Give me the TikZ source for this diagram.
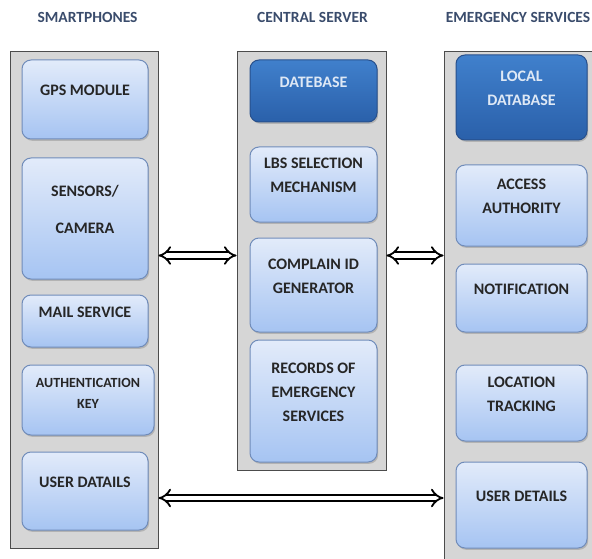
\documentclass[tikz,border=0pt]{standalone}
\usepackage{fontspec}
\setmainfont{Carlito}
\usetikzlibrary{arrows.meta,shadows}
\definecolor{headblue}{RGB}{58,76,108}
\definecolor{boxtop}{RGB}{226,235,250}
\definecolor{boxbot}{RGB}{166,196,242}
\definecolor{boxedge}{RGB}{112,140,186}
\definecolor{darktop}{RGB}{64,128,204}
\definecolor{darkbot}{RGB}{42,96,170}
\definecolor{darkedge}{RGB}{40,80,140}
\definecolor{darktext}{RGB}{222,232,245}
\definecolor{panelgrey}{RGB}{214,214,214}
\begin{document}
\begin{tikzpicture}[x=1pt, y=-1pt,
  panel/.style={draw=black!70, fill=panelgrey, line width=1pt, inner sep=0pt},
  item/.style={rounded corners=9pt, draw=boxedge, line width=1pt, top color=boxtop, bottom color=boxbot,
    drop shadow={opacity=0.4, shadow xshift=1.2pt, shadow yshift=-1.8pt}, inner sep=0pt},
  dbitem/.style={item, draw=darkedge, top color=darktop, bottom color=darkbot},
  boxtext/.style={font=\bfseries\fontsize{16}{24}\selectfont, align=center, text=black!85, yshift=9pt},
  dbtext/.style={boxtext, text=darktext},
  header/.style={font=\bfseries\fontsize{15.5}{18}\selectfont, text=headblue},
  link/.style={double, double distance=4.5pt, line width=1.8pt, {Implies[scale=1.6]}-{Implies[scale=1.6]}}]
  \useasboundingbox (0,0) rectangle (592,559);

  \node[header] at (87.5,17) {SMARTPHONES};
  \node[header] at (312.5,17) {CENTRAL SERVER};
  \node[header] at (518,17) {EMERGENCY SERVICES};

  \node[panel, minimum width=148, minimum height=496] (phones) at (84,300) {};
  \node[panel, minimum width=149, minimum height=418] (server) at (311.5,261) {};
  \node[panel, minimum width=156, minimum height=513] (services) at (522,308.5) {};

  \node[item, minimum width=126, minimum height=79] (gps) at (85,99.5) {};
  \node[item, minimum width=126, minimum height=121] (sensors) at (85,218.5) {};
  \node[item, minimum width=126, minimum height=52] (mail) at (85,321) {};
  \node[item, minimum width=132, minimum height=70] (authkey) at (88,400) {};
  \node[item, minimum width=126, minimum height=78] (userdata) at (85,491) {};
  \node[boxtext] at (gps) {GPS MODULE};
  \node[boxtext] at (sensors) {SENSORS/\\[13pt]CAMERA};
  \node[boxtext] at (mail) {MAIL SERVICE};
  \node[boxtext, font=\bfseries\fontsize{14}{21}\selectfont, yshift=-2pt] at (authkey) {AUTHENTICATION\\KEY};
  \node[boxtext] at (userdata) {USER DATAILS};

  \node[dbitem, minimum width=127, minimum height=62] (db) at (313.5,91) {};
  \node[item, minimum width=127, minimum height=75] (lbs) at (313.5,184.5) {};
  \node[item, minimum width=127, minimum height=94] (complain) at (313.5,285) {};
  \node[item, minimum width=127, minimum height=122] (records) at (313.5,401) {};
  \node[dbtext] at (db) {DATEBASE};
  \node[boxtext] at (lbs) {LBS SELECTION\\MECHANISM};
  \node[boxtext] at (complain) {COMPLAIN ID\\GENERATOR};
  \node[boxtext] at (records) {RECORDS OF\\EMERGENCY\\SERVICES};

  \node[dbitem, minimum width=131, minimum height=85] (localdb) at (521.5,97.5) {};
  \node[item, minimum width=131, minimum height=81] (access) at (521.5,205.5) {};
  \node[item, minimum width=131, minimum height=68] (notify) at (521.5,298) {};
  \node[item, minimum width=131, minimum height=76] (tracking) at (521.5,403) {};
  \node[item, minimum width=131, minimum height=86] (userdet) at (521.5,505) {};
  \node[dbtext] at (localdb) {LOCAL\\DATABASE};
  \node[boxtext] at (access) {ACCESS\\AUTHORITY};
  \node[boxtext] at (notify) {NOTIFICATION};
  \node[boxtext] at (tracking) {LOCATION\\TRACKING};
  \node[boxtext] at (userdet) {USER DETAILS};

  \coordinate (upper) at (0,255.5);
  \coordinate (lower) at (0,498);
  \draw[link] (phones.east |- upper) -- (server.west |- upper);
  \draw[link] (server.east |- upper) -- (services.west |- upper);
  \draw[link] (phones.east |- lower) -- (services.west |- lower);
\end{tikzpicture}
\end{document}
